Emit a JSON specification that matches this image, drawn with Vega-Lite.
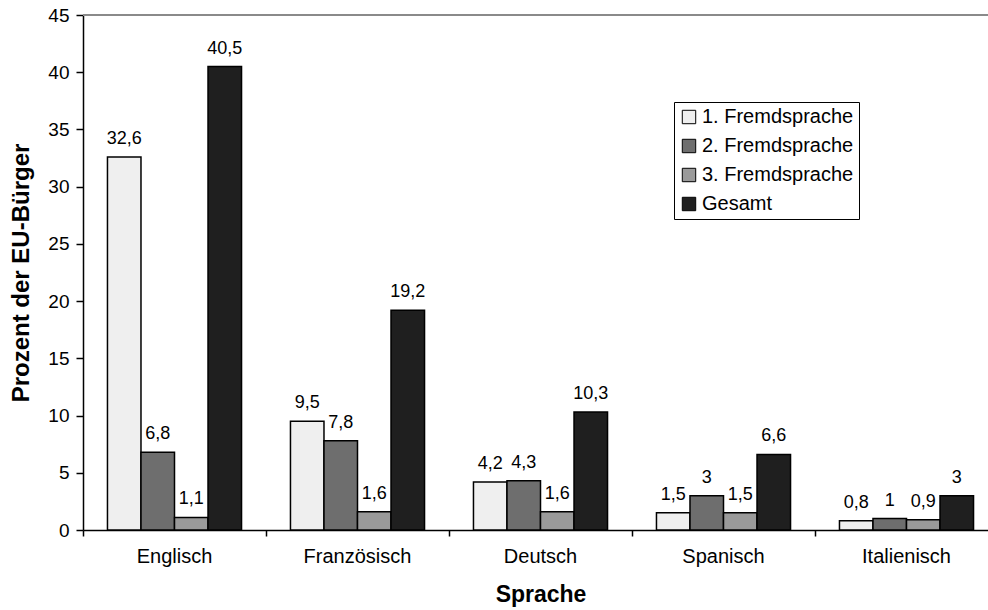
{
  "$schema": "https://vega.github.io/schema/vega-lite/v6.json",
  "width": 905,
  "height": 515,
  "autosize": {"type": "none"},
  "padding": {"left": 83, "top": 15, "right": 0, "bottom": 80},
  "config": {
    "locale": {
      "number": {"decimal": ",", "thousands": ".", "grouping": [3], "currency": ["", " €"]}
    },
    "font": "Liberation Sans",
    "view": {"stroke": null},
    "axis": {
      "grid": false,
      "domainColor": "#000000",
      "domainWidth": 1.5,
      "tickColor": "#000000",
      "tickWidth": 1.5,
      "labelColor": "#000000",
      "titleColor": "#000000",
      "labelFont": "Liberation Sans",
      "titleFont": "Liberation Sans"
    },
    "legend": {"labelFont": "Liberation Sans"}
  },
  "data": {
    "values": [
      {"Sprache": "Englisch", "Reihe": "1. Fremdsprache", "Prozent": 32.6},
      {"Sprache": "Englisch", "Reihe": "2. Fremdsprache", "Prozent": 6.8},
      {"Sprache": "Englisch", "Reihe": "3. Fremdsprache", "Prozent": 1.1},
      {"Sprache": "Englisch", "Reihe": "Gesamt", "Prozent": 40.5},
      {"Sprache": "Französisch", "Reihe": "1. Fremdsprache", "Prozent": 9.5},
      {"Sprache": "Französisch", "Reihe": "2. Fremdsprache", "Prozent": 7.8},
      {"Sprache": "Französisch", "Reihe": "3. Fremdsprache", "Prozent": 1.6},
      {"Sprache": "Französisch", "Reihe": "Gesamt", "Prozent": 19.2},
      {"Sprache": "Deutsch", "Reihe": "1. Fremdsprache", "Prozent": 4.2},
      {"Sprache": "Deutsch", "Reihe": "2. Fremdsprache", "Prozent": 4.3},
      {"Sprache": "Deutsch", "Reihe": "3. Fremdsprache", "Prozent": 1.6},
      {"Sprache": "Deutsch", "Reihe": "Gesamt", "Prozent": 10.3},
      {"Sprache": "Spanisch", "Reihe": "1. Fremdsprache", "Prozent": 1.5},
      {"Sprache": "Spanisch", "Reihe": "2. Fremdsprache", "Prozent": 3},
      {"Sprache": "Spanisch", "Reihe": "3. Fremdsprache", "Prozent": 1.5},
      {"Sprache": "Spanisch", "Reihe": "Gesamt", "Prozent": 6.6},
      {"Sprache": "Italienisch", "Reihe": "1. Fremdsprache", "Prozent": 0.8},
      {"Sprache": "Italienisch", "Reihe": "2. Fremdsprache", "Prozent": 1},
      {"Sprache": "Italienisch", "Reihe": "3. Fremdsprache", "Prozent": 0.9},
      {"Sprache": "Italienisch", "Reihe": "Gesamt", "Prozent": 3}
    ]
  },
  "layer": [
    {
      "mark": {"type": "bar", "stroke": "#000000", "strokeWidth": 1.5},
      "encoding": {
        "x": {
          "field": "Sprache",
          "type": "nominal",
          "sort": ["Englisch", "Französisch", "Deutsch", "Spanisch", "Italienisch"],
          "scale": {"range": [0, 915], "paddingInner": 0, "paddingOuter": 0},
          "axis": {
            "title": "Sprache",
            "labelAngle": 0,
            "labelFontSize": 20,
            "titleFontSize": 23,
            "titleFontWeight": "bold",
            "bandPosition": 0,
            "tickSize": 6,
            "labelPadding": 10,
            "titlePadding": 17
          }
        },
        "xOffset": {
          "field": "Reihe",
          "type": "nominal",
          "sort": ["1. Fremdsprache", "2. Fremdsprache", "3. Fremdsprache", "Gesamt"],
          "scale": {"paddingInner": 0, "paddingOuter": 0.73}
        },
        "y": {
          "field": "Prozent",
          "type": "quantitative",
          "scale": {"domain": [0, 45], "nice": false},
          "axis": {
            "title": "Prozent der EU-Bürger",
            "values": [0, 5, 10, 15, 20, 25, 30, 35, 40, 45],
            "labelFontSize": 19,
            "titleFontSize": 24,
            "titleFontWeight": "bold",
            "tickSize": 7,
            "labelPadding": 7,
            "titlePadding": 14
          }
        },
        "fill": {
          "field": "Reihe",
          "type": "nominal",
          "sort": ["1. Fremdsprache", "2. Fremdsprache", "3. Fremdsprache", "Gesamt"],
          "scale": {"range": ["#efefef", "#6e6e6e", "#9a9a9a", "#1f1f1f"]},
          "legend": {
            "title": null,
            "orient": "none",
            "legendX": 591,
            "legendY": 87,
            "symbolType": "square",
            "symbolSize": 180,
            "symbolStrokeColor": "#000000",
            "symbolStrokeWidth": 1,
            "symbolOpacity": 1,
            "labelFontSize": 20,
            "labelColor": "#000000",
            "labelOffset": 3,
            "rowPadding": 9,
            "padding": 5,
            "strokeColor": "#000000",
            "fillColor": "#ffffff"
          }
        }
      }
    },
    {
      "mark": {"type": "text", "baseline": "alphabetic", "dy": -13, "color": "#000000"},
      "encoding": {
        "x": {
          "field": "Sprache",
          "type": "nominal",
          "sort": ["Englisch", "Französisch", "Deutsch", "Spanisch", "Italienisch"]
        },
        "xOffset": {
          "field": "Reihe",
          "type": "nominal",
          "sort": ["1. Fremdsprache", "2. Fremdsprache", "3. Fremdsprache", "Gesamt"]
        },
        "y": {"field": "Prozent", "type": "quantitative"},
        "text": {"field": "Prozent", "type": "quantitative", "format": "~g"},
        "size": {
          "field": "Reihe",
          "type": "nominal",
          "sort": ["1. Fremdsprache", "2. Fremdsprache", "3. Fremdsprache", "Gesamt"],
          "scale": {"range": [18, 18, 15, 15]},
          "legend": null
        }
      }
    },
    {
      "data": {"values": [{"Skalenende": 45}]},
      "mark": {"type": "rule", "color": "#8a8a8a", "strokeWidth": 2},
      "encoding": {
        "y": {"field": "Skalenende", "type": "quantitative"}
      }
    }
  ]
}
